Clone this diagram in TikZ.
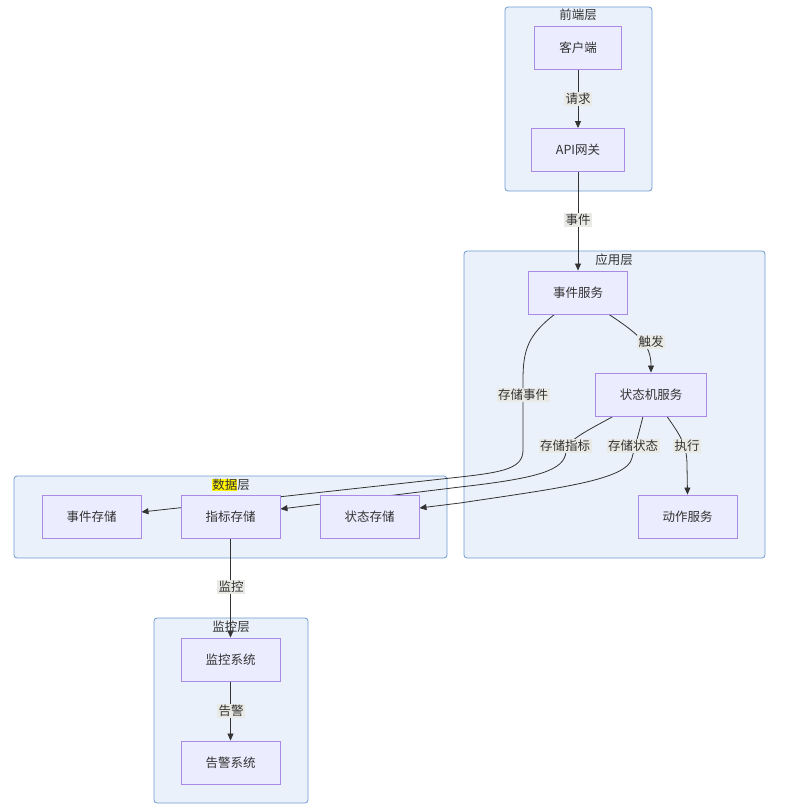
\documentclass[tikz,border=0pt]{standalone}
\usepackage{fontspec}
\setmainfont{Noto Sans CJK SC}
\usetikzlibrary{arrows.meta}
\definecolor{layerfill}{HTML}{EAF1FB}
\definecolor{layerline}{HTML}{6E9BD3}
\definecolor{svcfill}{HTML}{ECECFF}
\definecolor{svcline}{HTML}{A98BE6}
\definecolor{lblfill}{HTML}{E9E9E6}
\definecolor{ink}{HTML}{333333}
\pgfdeclarelayer{back}
\pgfdeclarelayer{wires}
\pgfsetlayers{back,wires,main}
\tikzset{
  layer/.style={draw=layerline, fill=layerfill, rounded corners=3pt, line width=0.8pt},
  title/.style={text=ink, inner sep=0pt},
  svc/.style={draw=svcline, fill=svcfill, line width=0.9pt, text=ink,
    minimum height=43pt, inner xsep=24.5pt, inner ysep=0pt},
  lbl/.style={fill=lblfill, text=ink, inner sep=1.5pt},
  edge/.style={draw=ink, line width=0.8pt, -{Triangle[length=7pt,width=6pt]}}
}
\begin{document}
\begin{tikzpicture}[x=1pt, y=-1pt, font=\fontsize{12.5}{15}\selectfont]
      \useasboundingbox (0,0) rectangle (787,809);
      % layers
      \begin{pgfonlayer}{back}
        \draw[layer] (505,7) rectangle (652,191);
        \draw[layer] (464,251) rectangle (765,558);
        \draw[layer] (14,476) rectangle (447,558);
        \draw[layer] (154,618) rectangle (308,803);
      \end{pgfonlayer}
      \node[title] (tfront) at (578,15) {前端层};
      \node[title] (tapp) at (614,260) {应用层};
      \node[title] (tdata) at (231,485) {{\setlength{\fboxsep}{0pt}\colorbox{yellow}{数据}}层};
      \node[title] (tmon) at (231,627) {监控层};
      % services
      \draw
        (578,47.5) node[svc] (cli){客户端}
        (578,150) node[svc] (gw){API网关}
        (578,292.5) node[svc] (evt){事件服务}
        (651,394.5) node[svc] (fsm){状态机服务}
        (687.5,516.5) node[svc] (act){动作服务}
        (91.5,516.5) node[svc] (es){事件存储}
        (230.5,516.5) node[svc] (ms){指标存储}
        (369.5,516.5) node[svc] (ss){状态存储}
        (230.5,659.5) node[svc] (mon){监控系统}
        (230.5,762.5) node[svc] (alm){告警系统};
      \begin{pgfonlayer}{wires}
      \begin{scope}[edge]
        \draw (cli) to (gw);
        \draw (gw) to (evt);
        \draw ([xshift=31pt]evt.south) .. controls (640,335) and (651,345) .. (fsm.north);
        \draw ([xshift=-23.5pt]evt.south) .. controls (528,335) and (523,350) .. (523,380)
          -- (523,450) .. controls (523,468) and (505,472) .. (460,477) -- ([yshift=4.5pt]es.east);
        \draw ([xshift=-38pt]fsm.south) .. controls (585,432) and (567,440) .. (566,452)
          .. controls (564,470) and (540,478) .. (460,487) -- ([yshift=7.5pt]ms.east);
        \draw ([xshift=-8pt]fsm.south) .. controls (637,440) and (634,450) .. (632,458)
          .. controls (627,480) and (560,488) .. (460,503) -- ([yshift=8.5pt]ss.east);
        \draw ([xshift=16pt]fsm.south) .. controls (680,435) and (687,445) .. (687,465) -- (act.north);
        \draw (ms) to (mon);
        \draw (mon) to (alm);
      \end{scope}
      \end{pgfonlayer}
      % edge labels
      \draw
        (578,99) node[lbl] (lreq){请求}
        (578,220) node[lbl] (levt){事件}
        (651,342) node[lbl] (ltrig){触发}
        (523,395) node[lbl] (lstev){存储事件}
        (565,446) node[lbl] (lstme){存储指标}
        (633,446) node[lbl] (lstst){存储状态}
        (687,446) node[lbl] (lexec){执行}
        (231,587) node[lbl] (lmon){监控}
        (231,711) node[lbl] (lalm){告警};
    \end{tikzpicture}
\end{document}
